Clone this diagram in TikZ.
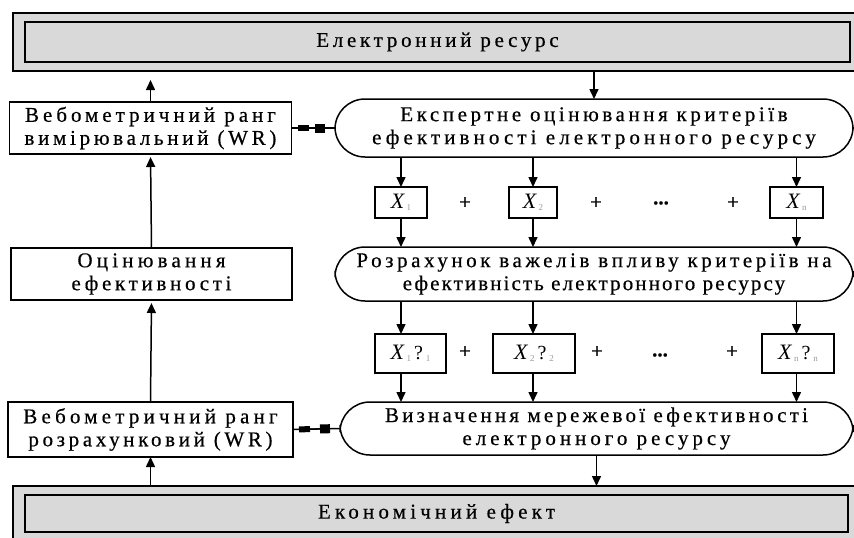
\documentclass[tikz,border=0pt]{standalone}
\usepackage{fontspec}
\setmainfont[FakeBold=0.5]{Liberation Serif}
\newfontfamily\xfont{Liberation Serif}
\usetikzlibrary{arrows.meta}
\newcommand{\lsp}[1]{\addfontfeature{LetterSpace=#1}}
\newcommand{\xsub}[1]{\raisebox{-1.5pt}{\xfont\fontsize{9}{9}\selectfont\color{black!40}#1}}
\newcommand{\xv}{{\xfont\fontsize{22}{24}\selectfont\itshape X}\kern2.5pt}
\newcommand{\qm}{\kern3pt{\xfont\fontsize{20}{24}\selectfont ?}\kern3pt}
\begin{document}
\begin{tikzpicture}[x=1pt,y=-1pt,
  every node/.style={inner sep=0pt, outer sep=0pt},
  txt/.style={font=\fontsize{21}{23}\selectfont, align=center},
  gbox/.style={draw=black, line width=1.5pt, fill=black!15},
  wbox/.style={draw=black, line width=1.5pt, fill=white, txt},
  term/.style={draw=black, line width=1.5pt, rectangle, rounded corners=30pt, txt},
  xbox/.style={draw=black, line width=1.5pt, font=\fontsize{20}{23}\selectfont},
  arr/.style={line width=1.5pt, -{Triangle[length=10pt,width=9pt]}},
  ln/.style={line width=1.5pt},
  sq/.style={line width=1.5pt, {Rectangle[length=11pt,width=6pt]}-{Rectangle[length=10pt,width=9pt]}, shorten <=6pt, shorten >=10pt},
  sym/.style={font=\fontsize{21}{23}\selectfont}
]
\useasboundingbox (0,0) rectangle (854,538);
% top and bottom resource boxes
\node[gbox, minimum width=847pt, minimum height=58pt] (topout) at (436.5,42) {};
\node[gbox, minimum width=825pt, minimum height=40pt, txt] (top) at (437.5,42) {\lsp{17.7}Електронний ресурс};
\node[gbox, minimum width=847pt, minimum height=60pt] (botout) at (436.5,516) {};
\node[gbox, minimum width=823pt, minimum height=37pt, txt] (bot) at (436.5,513.5) {\lsp{20}Економічний ефект};
% left column
\node[wbox, minimum width=282pt, minimum height=52pt] (wr1) at (150.5,128) {\lsp{19}Вебометричний ранг\\\lsp{17.7}вимірювальний (WR)};
\node[wbox, minimum width=281pt, minimum height=52pt] (oc) at (151.5,274) {\lsp{20}Оцінювання\\\lsp{17.6}ефективності};
\node[wbox, minimum width=285pt, minimum height=55pt] (wr2) at (150.5,429.5) {\lsp{20}Вебометричний ранг\\\lsp{17.4}розрахунковий (WR)};
% right column
\node[term, minimum width=518pt, minimum height=58pt] (ell1) at (594,128) {\lsp{17}Експертне оцінювання критеріїв\\\lsp{19.5}ефективності електронного ресурсу};
\node[term, minimum width=518pt, minimum height=54pt] (ell2) at (594,274) {\lsp{17}Розрахунок важелів впливу критеріїв на\\\lsp{10}ефективність електронного ресурсу};
\node[term, minimum width=513pt, minimum height=53pt] (ell3) at (596.5,428.5) {\lsp{15.2}Визначення мережевої ефективності\\\lsp{19}електронного ресурсу};
% X row 1
\node[xbox, minimum width=52pt, minimum height=31pt] (x1) at (401,202.5) {\xv\xsub{1}};
\node[xbox, minimum width=48pt, minimum height=31pt] (x2) at (533,202.5) {\xv\xsub{2}};
\node[xbox, minimum width=53pt, minimum height=31pt] (xn) at (796.5,202.5) {\xv\xsub{n}};
\node[sym] (p1) at (465,203) {+};
\node[sym] (p2) at (596,203) {+};
\node[sym] (d1) at (661,203) {\textbf{...}};
\node[sym] (p3) at (733,203) {+};
% X row 2
\node[xbox, minimum width=71pt, minimum height=39pt] (y1) at (410.5,353.5) {\xv\xsub{1}\qm\xsub{1}};
\node[xbox, minimum width=82pt, minimum height=39pt] (y2) at (534,353.5) {\xv\xsub{2}\qm\xsub{2}};
\node[xbox, minimum width=72pt, minimum height=39pt] (yn) at (798,353.5) {\xv\xsub{n}\qm\xsub{n}};
\node[sym] (q1) at (465,352) {+};
\node[sym] (q2) at (597,352) {+};
\node[sym] (d2) at (660,355) {\textbf{...}};
\node[sym] (q3) at (732,352) {+};
% connectors left
\draw[arr, shorten >=9pt] (wr1.north) -- (wr1.north |- topout.south);
\draw[arr, shorten >=3pt] (oc.north) -- (wr1.south);
\draw[arr, shorten >=3pt] (wr2.north) -- (oc.south);
\draw[arr] (wr2.south |- botout.north) -- (wr2.south);
% double-square links
\draw[ln] (wr1.east) -- (ell1.west);
\draw[sq] (wr1.east) -- (ell1.west);
\draw[ln] (wr2.east) -- (ell3.west);
\draw[sq] (wr2.east) -- (ell3.west);
% connectors right
\draw[arr] (topout.south -| ell1.north) -- (ell1.north);
\draw[arr] (ell3.south) -- (ell3.south |- botout.north);
\foreach \a/\b in {x1/x1, x2/x2, xn/xn}{
  \draw[arr] (ell1.south -| \a) -- (\b.north);
  \draw[arr] (\b.south) -- (ell2.north -| \b);
}
\foreach \a/\b in {x1/y1, x2/y2, xn/yn}{
  \draw[arr] (ell2.south -| \a) -- (\b.north -| \a);
  \draw[arr] (\b.south -| \a) -- (ell3.north -| \a);
}
\end{tikzpicture}
\end{document}
